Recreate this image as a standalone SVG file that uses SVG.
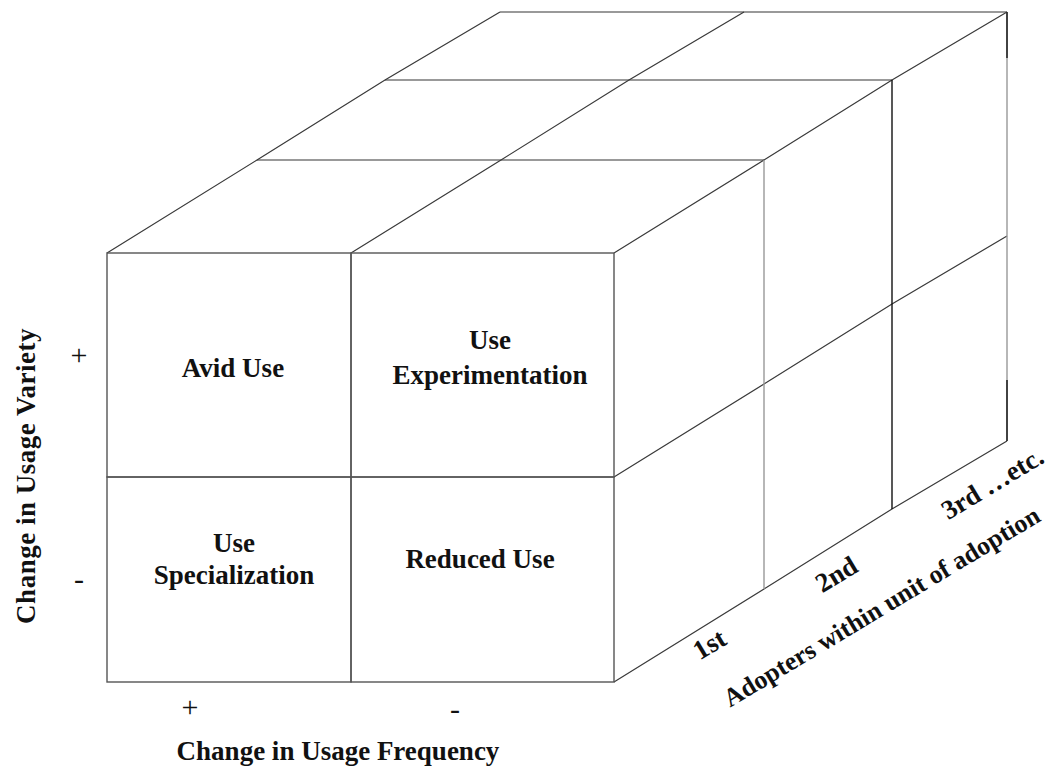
<svg xmlns="http://www.w3.org/2000/svg" width="1056" height="769" viewBox="0 0 1056 769">
<style>
.bg{fill:#fff}
.cell{fill:none;stroke:#555;stroke-width:1.4}
.edge{fill:none;stroke:#3a3a3a;stroke-width:1.2}
.hz{fill:none;stroke:#777;stroke-width:1.4}
.vg{fill:none;stroke:#999;stroke-width:1.4}
.vb{fill:none;stroke:#111;stroke-width:1.4}
.lbl{font-family:"Liberation Serif","Times New Roman",serif;font-weight:bold;font-size:27px;fill:#111;text-anchor:middle}
.sgn{font-family:"Liberation Serif","Times New Roman",serif;font-size:30px;fill:#111;text-anchor:middle}
</style>
<rect class="bg" x="0" y="0" width="1056" height="769"/>
<g id="top-face">
<line class="hz" x1="500" y1="12" x2="1007" y2="12"/>
<line class="hz" x1="385" y1="80" x2="892" y2="80"/>
<line class="hz" x1="257" y1="160" x2="764" y2="160"/>
<polyline class="edge" points="107,253 257,160 385,80 500,12"/>
<polyline class="edge" points="351,253 501,160 629,80 744,12"/>
<polyline class="edge" points="614,253 764,160 892,80 1007,12"/>
</g>
<g id="side-face">
<polyline class="edge" points="614,477 764,384 892,304 1007,236"/>
<polyline class="edge" points="614,682 764,589 892,509 1007,441"/>
<line class="vg" x1="764" y1="160" x2="764" y2="589"/>
<line class="vb" x1="892" y1="80" x2="892" y2="509"/>
<line class="vg" x1="1007" y1="12" x2="1007" y2="441"/>
<line class="vb" x1="1007" y1="12" x2="1007" y2="58"/>
<line class="vb" x1="1007" y1="380" x2="1007" y2="441"/>
</g>
<g id="cell-avid-use">
<rect class="cell" x="107" y="253" width="244" height="224"/>
<text class="lbl" x="233" y="377">Avid Use</text>
</g>
<g id="cell-use-experimentation">
<rect class="cell" x="351" y="253" width="263" height="224"/>
<text class="lbl" x="490" y="349">Use</text>
<text class="lbl" x="490" y="384">Experimentation</text>
</g>
<g id="cell-use-specialization">
<rect class="cell" x="107" y="477" width="244" height="205"/>
<text class="lbl" x="234" y="552">Use</text>
<text class="lbl" x="234" y="584">Specialization</text>
</g>
<g id="cell-reduced-use">
<rect class="cell" x="351" y="477" width="263" height="205"/>
<text class="lbl" x="480" y="568">Reduced Use</text>
</g>
<g id="axis-variety">
<text class="lbl" transform="translate(35,476) rotate(-90)" style="letter-spacing:0.5px">Change in Usage Variety</text>
<text class="sgn" x="79" y="365">+</text>
<text class="sgn" x="79" y="589">-</text>
</g>
<g id="axis-frequency">
<text class="sgn" x="190" y="717">+</text>
<text class="sgn" x="455" y="719">-</text>
<text class="lbl" x="338" y="760">Change in Usage Frequency</text>
</g>
<g id="axis-adopters">
<text class="lbl" transform="translate(714,652) rotate(-31)">1st</text>
<text class="lbl" transform="translate(841,582) rotate(-31)">2nd</text>
<text class="lbl" transform="translate(997,491) rotate(-31)">3rd …etc.</text>
<text class="lbl" transform="translate(886,614) rotate(-31)" style="font-size:26px">Adopters within unit of adoption</text>
</g>
</svg>
